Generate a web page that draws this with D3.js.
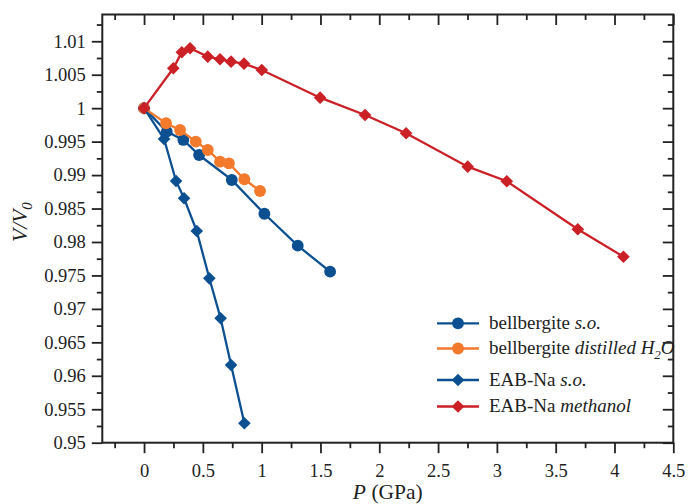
<!doctype html>
<html>
<head>
    <style>
        body { margin: 0; background: #fff; }
        .axis path { display: none; }
        .axis line { stroke: #222; stroke-width: 1.8px; }
        .axis text { font-size: 18.5px; fill: #222; }
        .frame { fill: none; stroke: #222; stroke-width: 2px; }
    </style>
    <script src="https://d3js.org/d3.v7.min.js"></script>
</head>
<body>
    <svg width="688" height="504"></svg>
    <script>
        // data
        var bellSoP = [0, 0.193, 0.334, 0.468, 0.746, 1.023, 1.307, 1.582];
        var bellSoV = [1, 0.99649, 0.99525, 0.99300, 0.98927, 0.98422, 0.97945, 0.97556];

        var bellH2oP = [0, 0.187, 0.306, 0.440, 0.542, 0.646, 0.721, 0.853, 0.986];
        var bellH2oV = [1, 0.99774, 0.99674, 0.99499, 0.99375, 0.99200, 0.99176, 0.98937, 0.98762];

        var eabSoP = [0, 0.170, 0.272, 0.340, 0.448, 0.555, 0.651, 0.740, 0.853];
        var eabSoV = [1, 0.99540, 0.98912, 0.98653, 0.98164, 0.97457, 0.96860, 0.96162, 0.95290];

        var eabMeP = [0, 0.249, 0.321, 0.391, 0.542, 0.646, 0.740, 0.850, 1.001, 1.497, 1.879, 2.228, 2.752, 3.084, 3.688, 4.076];
        var eabMeV = [1, 1.00596, 1.00836, 1.00895, 1.00770, 1.00731, 1.00695, 1.00665, 1.00571, 1.00157, 0.99898, 0.99625, 0.99126, 0.98907, 0.98190, 0.97780];

        var xTicks = [0, 0.5, 1, 1.5, 2, 2.5, 3, 3.5, 4, 4.5];
        var xTickLabels = ["0", "0.5", "1", "1.5", "2", "2.5", "3", "3.5", "4", "4.5"];
        var xMinor = [-0.25, 0.25, 0.75, 1.25, 1.75, 2.25, 2.75, 3.25, 3.75, 4.25];
        var yTicks = [0.95, 0.955, 0.96, 0.965, 0.97, 0.975, 0.98, 0.985, 0.99, 0.995, 1, 1.005, 1.01];
        var yTickLabels = ["0.95", "0.955", "0.96", "0.965", "0.97", "0.975", "0.98", "0.985", "0.99", "0.995", "1", "1.005", "1.01"];
        var yMinor = [0.9525, 0.9575, 0.9625, 0.9675, 0.9725, 0.9775, 0.9825, 0.9875, 0.9925, 0.9975, 1.0025, 1.0075, 1.0125];

        var series = [
            { p: bellSoP, v: bellSoV, color: "#0c5092", shape: "circle" },
            { p: bellH2oP, v: bellH2oV, color: "#f3792c", shape: "circle" },
            { p: eabSoP, v: eabSoV, color: "#0c5092", shape: "diamond" },
            { p: eabMeP, v: eabMeV, color: "#cc2027", shape: "diamond" }
        ];

        var serif = "Liberation Serif";
        var svg = d3.select("svg").attr("font-family", serif),
            plotL = 102.3, plotR = 673.3, plotT = 14.5, plotB = 442.7;

        var x = d3.scaleLinear().domain([-0.355, 4.5]).range([plotL, plotR]),
            y = d3.scaleLinear().domain([0.95, 1.014]).range([plotB, plotT]);

        // bottom / left axes (ticks outward)
        svg.append("g").attr("class", "axis")
           .attr("transform", "translate(0," + plotB + ")")
           .call(d3.axisBottom(x).tickValues(xTicks).tickSize(10.5).tickPadding(11)
                 .tickFormat(function(d, i) { return xTickLabels[i]; }));
        svg.append("g").attr("class", "axis")
           .attr("transform", "translate(0," + plotB + ")")
           .call(d3.axisBottom(x).tickValues(xMinor).tickSize(5.5).tickFormat(""));

        svg.append("g").attr("class", "axis")
           .attr("transform", "translate(" + plotL + ",0)")
           .call(d3.axisLeft(y).tickValues(yTicks).tickSize(10.5).tickPadding(6)
                 .tickFormat(function(d, i) { return yTickLabels[i]; }));
        svg.append("g").attr("class", "axis")
           .attr("transform", "translate(" + plotL + ",0)")
           .call(d3.axisLeft(y).tickValues(yMinor).tickSize(5.5).tickFormat(""));

        // top / right axes (ticks inward)
        svg.append("g").attr("class", "axis")
           .attr("transform", "translate(0," + plotT + ")")
           .call(d3.axisTop(x).tickValues(xTicks).tickSize(-10.5).tickFormat(""));
        svg.append("g").attr("class", "axis")
           .attr("transform", "translate(0," + plotT + ")")
           .call(d3.axisTop(x).tickValues(xMinor).tickSize(-5.5).tickFormat(""));
        svg.append("g").attr("class", "axis")
           .attr("transform", "translate(" + plotR + ",0)")
           .call(d3.axisRight(y).tickValues(yTicks).tickSize(-10.5).tickFormat(""));
        svg.append("g").attr("class", "axis")
           .attr("transform", "translate(" + plotR + ",0)")
           .call(d3.axisRight(y).tickValues(yMinor).tickSize(-5.5).tickFormat(""));

        svg.selectAll(".axis").attr("font-family", serif);

        var circle = d3.symbol().type(d3.symbolCircle).size(110),
            diamond = d3.symbol().type(d3.symbolSquare).size(80);

        function marker(g, shape, color, px, py) {
            var m = g.append("path")
                .attr("d", shape == "circle" ? circle() : diamond())
                .attr("fill", color);
            if (shape == "circle") m.attr("transform", "translate(" + px + "," + py + ")");
            else m.attr("transform", "translate(" + px + "," + py + ") rotate(45)");
        }

        var line = d3.line()
            .x(function(d) { return x(d[0]); })
            .y(function(d) { return y(d[1]); });

        series.forEach(function(s) {
            var pts = s.p.map(function(p, i) { return [p, s.v[i]]; });
            var g = svg.append("g");
            g.append("path")
             .attr("d", line(pts))
             .attr("fill", "none")
             .attr("stroke", s.color)
             .attr("stroke-width", 2.3);
            pts.forEach(function(d) {
                marker(g, s.shape, s.color, x(d[0]), y(d[1]));
            });
        });

        // legend
        var legendRows = [323.3, 348.5, 380, 406.5];
        var legendText = [
            [["bellbergite ", "normal"], ["s.o.", "italic"]],
            [["bellbergite ", "normal"], ["distilled H", "italic"], ["2", "sub"], ["O", "italic"]],
            [["EAB-Na ", "normal"], ["s.o.", "italic"]],
            [["EAB-Na ", "normal"], ["methanol", "italic"]]
        ];
        var legend = svg.append("g");
        series.forEach(function(s, i) {
            var ly = legendRows[i];
            legend.append("line")
                  .attr("x1", 437).attr("x2", 479)
                  .attr("y1", ly).attr("y2", ly)
                  .attr("stroke", s.color).attr("stroke-width", 2.3);
            marker(legend, s.shape, s.color, 458, ly);
            var t = legend.append("text")
                  .attr("x", 489).attr("y", ly + 5.5)
                  .attr("font-size", "19px").attr("fill", "#222");
            legendText[i].forEach(function(part, j) {
                var ts = t.append("tspan").text(part[0]);
                if (part[1] == "italic") ts.attr("font-style", "italic");
                if (part[1] == "sub") ts.attr("font-style", "italic").attr("font-size", "13px").attr("dy", 5);
                if (j > 0 && legendText[i][j - 1][1] == "sub") ts.attr("dy", -5);
            });
        });

        // frame
        svg.append("rect").attr("class", "frame")
           .attr("x", plotL).attr("y", plotT)
           .attr("width", plotR - plotL).attr("height", plotB - plotT);

        // axis titles
        var xt = svg.append("text")
           .attr("x", (plotL + plotR) / 2).attr("y", 499)
           .attr("text-anchor", "middle").attr("font-size", "21.5px").attr("fill", "#222");
        xt.append("tspan").attr("font-style", "italic").text("P");
        xt.append("tspan").text(" (GPa)");

        var yt = svg.append("text")
           .attr("transform", "translate(27,222) rotate(-90)")
           .attr("text-anchor", "middle").attr("font-size", "21.5px").attr("fill", "#222");
        yt.append("tspan").attr("font-style", "italic").text("V/V");
        yt.append("tspan").attr("font-style", "italic").attr("font-size", "15px").attr("dy", 5).text("0");
</script>
</body>
</html>
